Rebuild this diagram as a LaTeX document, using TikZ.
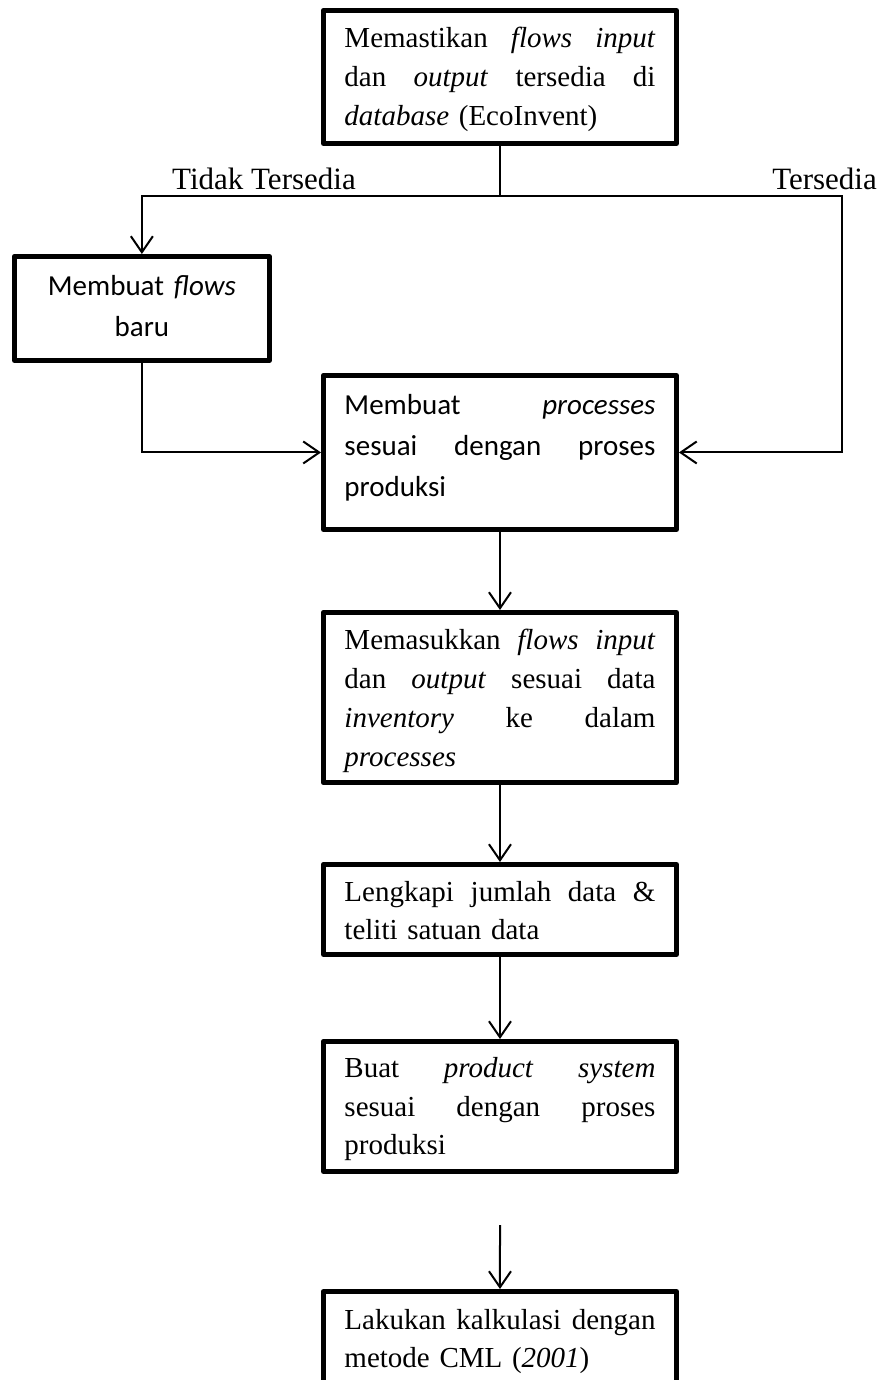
\documentclass[tikz,border=0pt]{standalone}
\usepackage{fontspec}
\setmainfont{Liberation Serif}
\newfontfamily\carlito{Carlito}
\usetikzlibrary{arrows.meta}
\newlength\bw \setlength\bw{311pt}
\newcommand\jl[1]{{\spaceskip=0pt\xspaceskip=0pt\makebox[\bw][s]{#1}}}
\newcommand\up[1]{\rule{0pt}{#1pt}}
\newcommand\dn[1]{\rule[-#1pt]{0pt}{#1pt}}
\begin{document}
\begin{tikzpicture}[x=1pt,y=-1pt,
  flowbox/.style={draw, line width=4.75pt, line join=round, inner xsep=21.1pt, inner ysep=0pt,
    text width=311pt, align=left, anchor=north west, font=\fontsize{29}{#1}\selectfont},
  calbox/.style={flowbox=#1, font=\carlito\fontsize{29}{#1}\selectfont},
  conn/.style={line width=2pt},
  arr/.style={-{Straight Barb[length=16pt,width=22pt]}},
  lbl/.style={inner sep=0pt, font=\fontsize{31}{36}\selectfont}]
\useasboundingbox (0,0) rectangle (880,1380);
\clip (0,0) rectangle (880,1380);

\node[flowbox=39] (top) at (321,8)
  {\up{37.6}\jl{Memastikan \textit{flows} \textit{input}}\\\jl{dan \textit{output} tersedia di}\\\textit{database} (EcoInvent)\dn{17.6}};
\node[calbox=41, text width=235pt, inner xsep=10pt, align=center] (lb) at (12,254)
  {\up{39.6}Membuat \textit{flows}\\baru\dn{23.6}};
\node[calbox=41] (b2) at (321,373)
  {\up{39.6}\jl{Membuat \textit{processes}}\\\jl{sesuai dengan proses}\\produksi\dn{32.6}};
\node[flowbox=38.7] (b3) at (321,610)
  {\up{37.6}\jl{Memasukkan \textit{flows} \textit{input}}\\\jl{dan \textit{output} sesuai data}\\\jl{\textit{inventory} ke dalam}\\\textit{processes}\dn{16.6}};
\node[flowbox=38] (b4) at (321,862)
  {\up{37.6}\jl{Lengkapi jumlah data \&}\\teliti satuan data\dn{14.6}};
\node[flowbox=38.5] (b5) at (321,1039)
  {\up{36.6}\jl{Buat \textit{product} \textit{system}}\\\jl{sesuai dengan proses}\\produksi\dn{16.6}};
\node[flowbox=38] (b6) at (321,1289)
  {\up{38.6}\jl{Lakukan kalkulasi dengan}\\metode CML (\textit{2001})\dn{20}};

\node[lbl, anchor=base west] (nt) at (172,190) {Tidak Tersedia};
\node[lbl, anchor=base east] (ny) at (877,190) {Tersedia};

\coordinate (hl) at (0,196);
\coordinate (cr) at (842,196);
\coordinate (gap) at (500,1225);

\draw[conn] (top.south) -- (top.south |- hl);
\draw[conn,arr] (top.south |- hl) -- (lb.north |- hl) -- (lb.north);
\draw[conn,arr] (top.south |- hl) -- (cr) -- (cr |- b2.east) -- (b2.east);
\draw[conn,arr] (lb.south) -- (lb.south |- b2.west) -- (b2.west);
\draw[conn,arr] (b2.south) -- (b3.north);
\draw[conn,arr] (b3.south) -- (b4.north);
\draw[conn,arr] (b4.south) -- (b5.north);
\draw[conn,arr] (gap) -- (b6.north);
\end{tikzpicture}
\end{document}
